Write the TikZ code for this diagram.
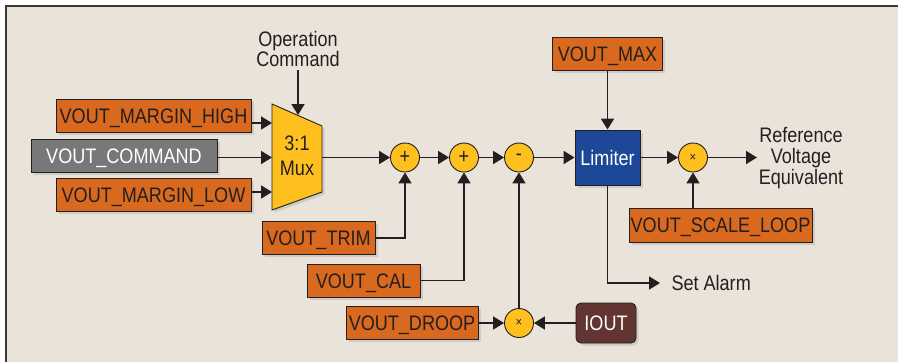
\documentclass[tikz,border=0pt]{standalone}
\usepackage{fontspec}
\setmainfont{Liberation Sans}[FakeStretch=0.86]
\usetikzlibrary{arrows.meta,shadows}
\definecolor{bg}{HTML}{EAE3DA}
\definecolor{ink}{HTML}{231F20}
\definecolor{frame}{HTML}{3A3837}
\definecolor{orng}{HTML}{D9691E}
\definecolor{gry}{HTML}{787878}
\definecolor{blu}{HTML}{1D4898}
\definecolor{yel}{HTML}{FDC01E}
\definecolor{brn}{HTML}{623532}
\begin{document}
\begin{tikzpicture}[x=1pt,y=-1pt,
  font=\fontsize{21}{21}\selectfont,
  >={Triangle[length=11pt,width=13pt]},
  conn/.style={line width=1.8pt, draw=ink},
  shad/.style={drop shadow={opacity=0.25, shadow xshift=2.5pt, shadow yshift=-2.5pt}},
  box/.style={draw=ink, line width=0.9pt, inner sep=0pt, minimum height=33pt,
    text height=15pt, text depth=0pt, shad},
  obox/.style={box, fill=orng, text=ink},
  gbox/.style={box, fill=gry, text=white},
  bbox/.style={box, fill=blu, text=white},
  rbox/.style={box, fill=brn, text=white, rounded corners=5pt},
  circ/.style={circle, draw=ink, line width=0.9pt, fill=yel, minimum size=29pt, inner sep=0pt, text=ink},
  lbl/.style={text=ink, align=center}]
\useasboundingbox (0,0) rectangle (898,362);
\fill[bg] (6,6) rectangle (898,362);
\draw[line width=2.4pt, frame] (6,362) -- (6,6) -- (898,6);

% inputs
\node[obox, minimum width=195pt] (high) at (153.5,116) {VOUT\_MARGIN\_HIGH};
\node[gbox, minimum width=186pt] (cmd) at (124,155.5) {VOUT\_COMMAND};
\node[obox, minimum width=195pt] (low) at (153.5,194.5) {VOUT\_MARGIN\_LOW};
\node[obox, minimum width=113pt] (trim) at (318.5,238) {VOUT\_TRIM};
\node[obox, minimum width=113pt] (cal) at (363.5,280.5) {VOUT\_CAL};
\node[obox, minimum width=132pt] (droop) at (412,323) {VOUT\_DROOP};
\node[rbox, minimum width=60pt, minimum height=40pt] (iout) at (606,323) {IOUT};
\node[obox, minimum width=110pt] (vmax) at (607.5,53.5) {VOUT\_MAX};
\node[bbox, minimum width=65pt, minimum height=55pt] (lim) at (607.5,157.5) {Limiter};
\node[obox, minimum width=183pt, minimum height=34pt] (scale) at (720.5,225) {VOUT\_SCALE\_LOOP};

% mux
\draw[fill=yel, draw=ink, line width=0.9pt, shad] (272,104) -- (322,126) -- (322,192) -- (272,210) -- cycle;
\node[lbl, font=\fontsize{21}{25}\selectfont] (mux) at (297,155.5) {3:1\\Mux};
\coordinate (mi1) at (272,123);
\coordinate (mi2) at (272,157.5);
\coordinate (mi3) at (272,192);
\coordinate (mo) at (322,157.5);
\coordinate (mtop) at (298,115);

\node[lbl, font=\fontsize{21}{20}\selectfont] (op) at (298,49) {Operation\\Command};

% circles
\node[circ] (s1) at (405,157.5) {+};
\node[circ] (s2) at (464,157.5) {+};
\node[circ] (sub) at (519,157.5) {-};
\node[circ, font=\fontsize{13}{13}\selectfont] (mul) at (519,323) {×};
\node[circ, font=\fontsize{13}{13}\selectfont] (mul2) at (693,157.5) {×};

\node[lbl, font=\fontsize{21}{21}\selectfont] (ref) at (801,158) {Reference\\Voltage\\Equivalent};
\coordinate (outc) at (757,157.5);
\node[lbl, anchor=west] (alarm) at (668,283) {Set Alarm};
\coordinate (alc) at (660,283);

% connectors
\draw[conn,->] (op.south) -- (mtop);
\draw[conn,->] (high.east |- mi1) -- (mi1);
\draw[conn,->] (cmd.east |- mi2) -- (mi2);
\draw[conn,->] (low.east |- mi3) -- (mi3);
\draw[conn,->] (mo) -- (s1.west);
\draw[conn,->] (s1.east) -- (s2.west);
\draw[conn,->] (s2.east) -- (sub.west);
\draw[conn,->] (sub.east) -- (lim.west);
\draw[conn,->] (trim.east) -| (s1.south);
\draw[conn,->] (cal.east) -| (s2.south);
\draw[conn,->] (droop.east) -- (mul.west);
\draw[conn,->] (iout.west) -- (mul.east);
\draw[conn,->] (mul.north) -- (sub.south);
\draw[conn,->] (vmax.south) -- (lim.north);
\draw[conn,->] (lim.east) -- (mul2.west);
\draw[conn,->] (mul2.east) -- (outc);
\draw[conn,->] (lim.south) |- (alc);
\draw[conn,->] (scale.north -| mul2) -- (mul2.south);
\end{tikzpicture}
\end{document}
